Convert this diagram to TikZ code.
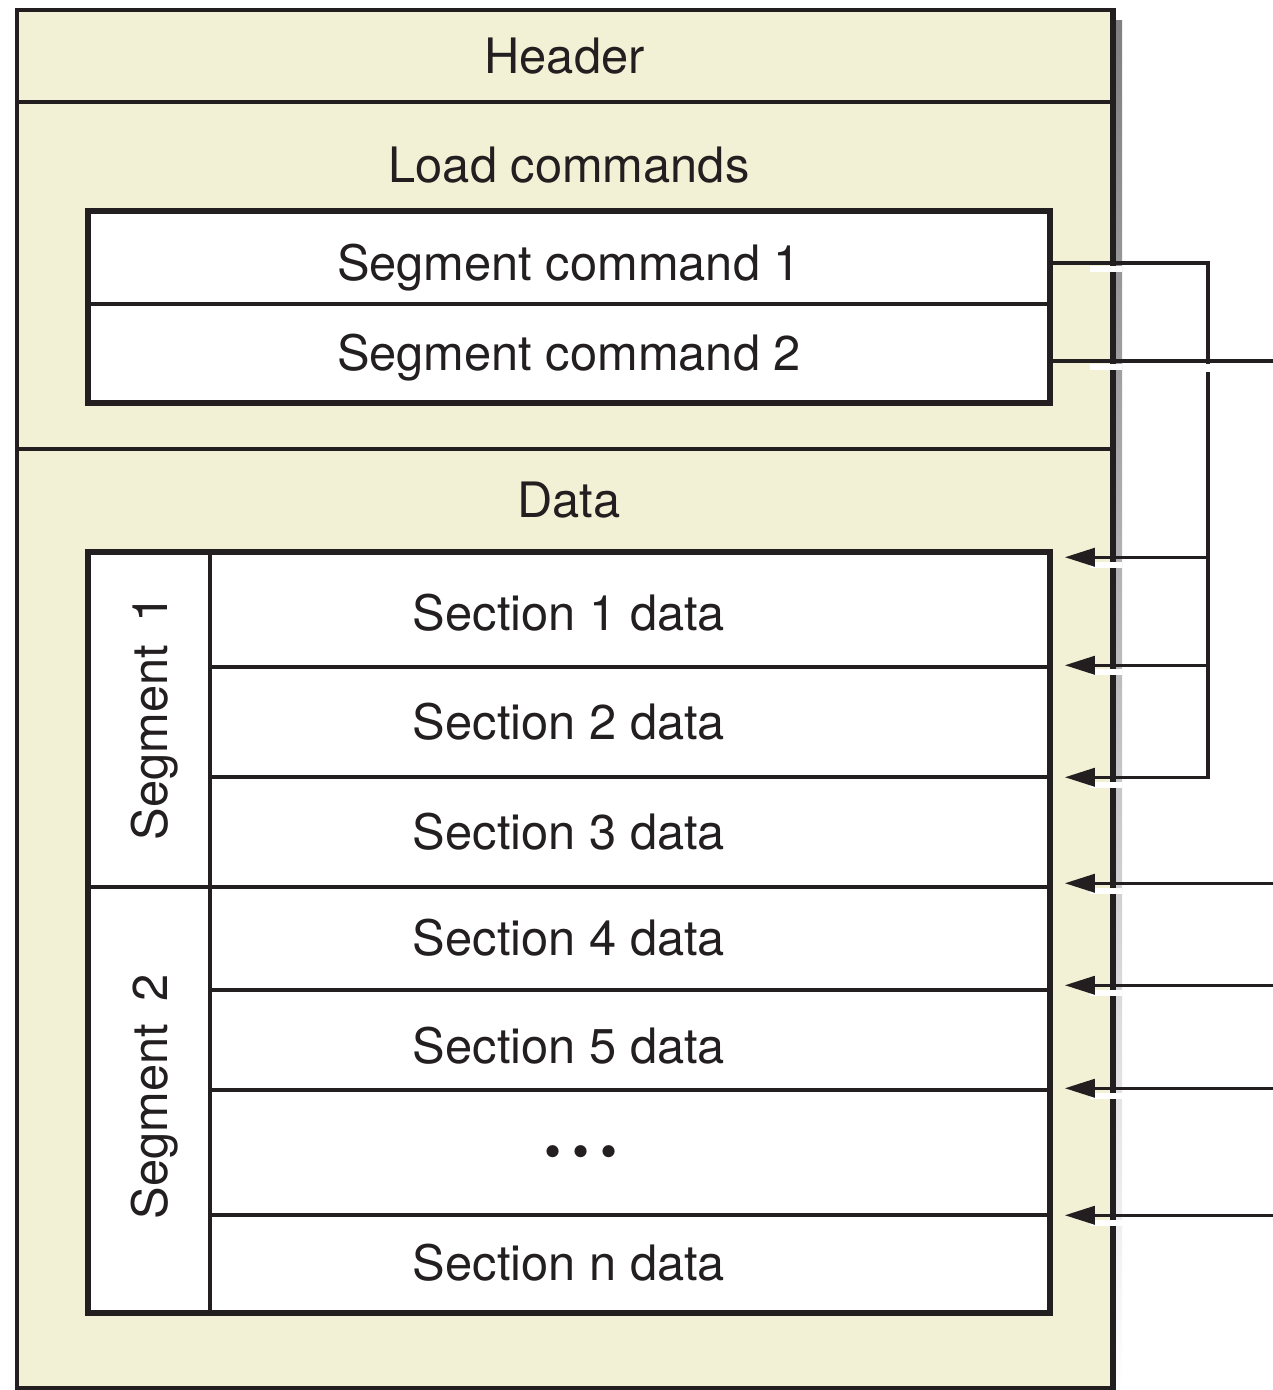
\documentclass[tikz,border=0pt]{standalone}
\usepackage{fontspec}
\setmainfont{TeX Gyre Heros}
\usepackage{tikz}
\usetikzlibrary{arrows.meta,shapes}

\definecolor{paper}{HTML}{F2F1D5}
\definecolor{ink}{HTML}{231F20}
\definecolor{shade}{HTML}{505050}

\begin{document}
\begin{tikzpicture}[
  every node/.style={font=\fontsize{49}{55}\selectfont,text=ink,inner sep=0pt,text height=34bp,text depth=0bp},
  panel/.style={draw=ink,line width=3.5bp,fill=paper,minimum width=1095bp},
  cell/.style={draw=ink,line width=3.5bp,fill=white,minimum width=960bp},
  segcol/.style={draw=ink,line width=3.5bp,fill=white,minimum width=121bp},
  conn/.style={draw=ink,line width=3.5bp},
  tip/.style={-{Triangle[length=30bp,width=18bp]}},
  gap/.style={fill=white,draw=none}
]
\useasboundingbox (0bp,0bp) rectangle (1273bp,-1390bp);

% shadow of the file
\fill[shade] (1112bp,-20bp) rectangle (1122bp,-1390bp);

\node (hdr) at (564.5bp,-56bp)[panel,minimum height=92bp] {Header};
\node (ldc) at (564.5bp,-275.5bp)[panel,minimum height=347bp] {};
\node (dat) at (564.5bp,-918.5bp)[panel,minimum height=939bp] {};
\draw[ink,line width=4bp] (hdr.north east) -- (dat.south east);
\node (ldct) at (569bp,-165bp) {Load commands};
\node (datt) at (569bp,-500bp) {Data};

% segment commands
\node (sc1) at (569bp,-258bp)[cell,minimum height=92bp,text height=44bp] {Segment command 1};
\node (sc2) at (569bp,-353bp)[cell,minimum height=98bp] {Segment command 2};
\draw[ink,line width=5bp] (sc1.north west) rectangle (sc2.south east);

% sections
\node (s1) at (569bp,-610bp)[cell,minimum height=114bp,text height=40bp] {Section 1 data};
\node (s2) at (569bp,-722bp)[cell,minimum height=110bp] {Section 2 data};
\node (s3) at (569bp,-832bp)[cell,minimum height=110bp] {Section 3 data};
\node (s4) at (569bp,-938.5bp)[cell,minimum height=103bp] {Section 4 data};
\node (s5) at (569bp,-1040bp)[cell,minimum height=100bp,text height=46bp] {Section 5 data};
\node (s6) at (569bp,-1152.5bp)[cell,minimum height=125bp] {};
\node (sn) at (569bp,-1263.5bp)[cell,minimum height=97bp] {Section n data};
\node (dots) at (581bp,-1162bp)[text height=12bp] {\textbullet\hspace{0.22em}\textbullet\hspace{0.22em}\textbullet};

\node (seg1) at (149.5bp,-720bp)[segcol,minimum height=334bp] {};
\node (seg2) at (149.5bp,-1099.5bp)[segcol,minimum height=425bp] {};
\node (seg1t) at (150bp,-718bp)[rotate=90] {Segment\hspace{0.45em}1};
\node (seg2t) at (150bp,-1097bp)[rotate=90] {Segment\hspace{0.45em}2};
\draw[ink,line width=5bp] (s1.north west) rectangle (sn.south east);

% where the lines leave the file
\fill[gap] (1090bp,-266bp) rectangle (1122bp,-272bp);
\fill[gap] (1090bp,-364bp) rectangle (1122bp,-370bp);
\fill[gap] (1090bp,-562bp) rectangle (1122bp,-568bp);
\fill[gap] (1090bp,-669bp) rectangle (1122bp,-675bp);
\fill[gap] (1090bp,-782bp) rectangle (1122bp,-788bp);
\fill[gap] (1090bp,-888bp) rectangle (1122bp,-894bp);
\fill[gap] (1090bp,-990bp) rectangle (1122bp,-996bp);
\fill[gap] (1090bp,-1093bp) rectangle (1122bp,-1099bp);
\fill[gap] (1090bp,-1220bp) rectangle (1122bp,-1226bp);

% segment command 1
\coordinate (b1) at (1208bp,-263bp);
\draw[conn,tip] (sc1.east |- b1) -- (b1) |- ([xshift=14bp,yshift=-2bp]s3.north east);
\draw[conn,tip] (b1 |- s1.north) ++(0,-6bp) -- ([xshift=14bp,yshift=-6bp]s1.north east);
\draw[conn,tip] (b1 |- s2.north) -- ([xshift=14bp]s2.north east);
\fill[gap] (1205bp,-364bp) rectangle (1211bp,-372bp);

% segment command 2
\coordinate (b2) at (1273bp,-361bp);
\draw[conn] (sc2.east |- b2) -- (b2);
\draw[conn,tip] (b2 |- s4.north) ++(0,2bp) -- ([xshift=14bp,yshift=2bp]s4.north east);
\draw[conn,tip] (b2 |- s5.north) ++(0,3bp) -- ([xshift=14bp,yshift=3bp]s5.north east);
\draw[conn,tip] (b2 |- s6.north) -- ([xshift=14bp]s6.north east);
\draw[conn,tip] (b2 |- sn.north) ++(0,-2bp) -- ([xshift=14bp,yshift=-2bp]sn.north east);
\end{tikzpicture}
\end{document}
